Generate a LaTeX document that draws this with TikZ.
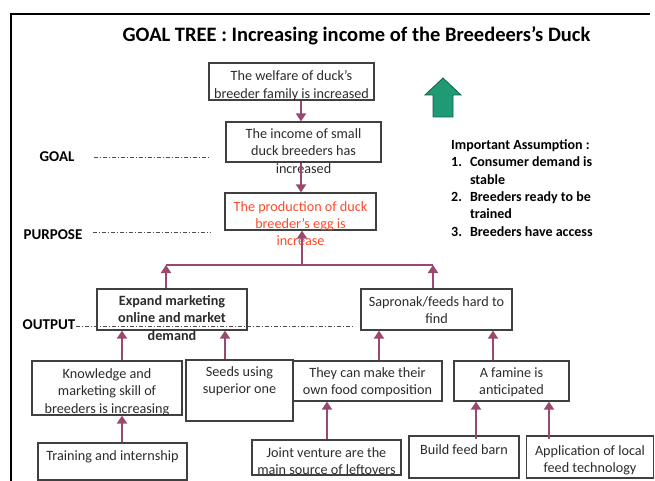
\documentclass[tikz,border=0pt]{standalone}
\usepackage{fontspec}
\setmainfont{Carlito}
\usetikzlibrary{arrows.meta,calc}
\definecolor{conn}{HTML}{9A4870}
\definecolor{boxc}{HTML}{404040}
\definecolor{txtc}{HTML}{2B2B2B}
\definecolor{redt}{HTML}{FF4A2A}
\definecolor{grn}{HTML}{1E9B74}
\definecolor{grnd}{HTML}{155E48}
\tikzset{
  box/.style={draw=boxc, line width=1.2pt, rectangle, inner sep=0pt},
  txt/.style={anchor=north, align=center, inner sep=0pt, text=txtc, font=\fontsize{14.2}{17.3}\selectfont},
  arr/.style={draw=conn, line width=2.8pt, -{Triangle[width=10pt,length=8pt]}},
  hub/.style={draw=conn, line width=2.8pt},
  lvl/.style={font=\fontsize{15}{18}\selectfont\bfseries, text=black, inner sep=0pt},
  dd/.style={draw=black!70, line width=0.7pt, dash pattern=on 4pt off 2pt on 1pt off 2pt},
}
\begin{document}
\begin{tikzpicture}[x=1pt,y=-1pt]
\useasboundingbox (0,0) rectangle (655,481);
% frame
\draw[line width=2pt] (650,14) -- (11,14) -- (11,481);
% title
\node[inner sep=0pt, font=\fontsize{20.5}{24}\selectfont\bfseries, text=black] (title) at (356.5,36) {GOAL TREE : Increasing income of the Breedeers’s Duck};
% boxes
\node[box, minimum width=165pt, minimum height=37pt] (welf) at (291.5,81.5) {};
\node[box, minimum width=155pt, minimum height=40pt] (inc) at (303.5,142) {};
\node[box, minimum width=151pt, minimum height=37pt] (prod) at (300.5,211.5) {};
\node[box, minimum width=150pt, minimum height=41pt] (exp) at (172,309.5) {};
\node[box, minimum width=151pt, minimum height=41pt] (sap) at (436.5,309.5) {};
\node[box, minimum width=150pt, minimum height=54pt] (know) at (107,388) {};
\node[box, minimum width=107pt, minimum height=61pt] (seed) at (239.5,390.5) {};
\node[box, minimum width=149pt, minimum height=40pt] (they) at (367.5,381) {};
\node[box, minimum width=115pt, minimum height=40pt] (fam) at (511.5,381) {};
\node[box, minimum width=149pt, minimum height=37pt] (train) at (112.5,461.5) {};
\node[box, minimum width=149pt, minimum height=35pt] (joint) at (326.5,457.5) {};
\node[box, minimum width=110pt, minimum height=42pt] (build) at (464,457) {};
\node[box, minimum width=127pt, minimum height=42pt] (app) at (590,457) {};
% texts
\node[txt] (twelf) at (291.5,70.5) {The welfare of duck’s\\breeder family is increased};
\node[txt] (tinc) at (303.5,128.5) {The income of small\\duck breeders has\\increased};
\node[txt, text=redt] (tprod) at (300.5,201) {The production of duck\\breeder’s egg is\\increase};
\node[txt, font=\fontsize{14.2}{17.3}\selectfont\bfseries] (texp) at (172,295.5) {Expand marketing\\online and market\\demand};
\node[txt] (tsap) at (436.5,296.5) {Sapronak/feeds hard to\\find};
\node[txt] (tknow) at (107,368.5) {Knowledge and\\marketing skill of\\breeders is increasing};
\node[txt] (tseed) at (239.5,366.5) {Seeds using\\superior one};
\node[txt] (tthey) at (367.5,367.5) {They can make their\\own food composition};
\node[txt] (tfam) at (511.5,367.5) {A famine is\\anticipated};
\node[txt] (ttrain) at (112.5,450.5) {Training and internship};
\node[txt] (tjoint) at (326.5,447.5) {Joint venture are the\\main source of leftovers};
\node[txt] (tbuild) at (464,444.5) {Build feed barn};
\node[txt] (tapp) at (590,445.5) {Application of local\\feed technology};
% level labels
\node[lvl] (goal) at (57,157) {GOAL};
\node[lvl] (purp) at (53,235) {PURPOSE};
\node[lvl] (outp) at (49,325) {OUTPUT};
\coordinate (gend) at (210,157);
\coordinate (pend) at (210,232);
\coordinate (oend) at (355,326);
\draw[dd] ([xshift=19pt]goal.east |- gend) -- (gend);
\draw[dd] ([xshift=10pt]purp.east |- pend) -- (pend);
\draw[dd] ([xshift=1pt]outp.east |- oend) -- (oend);
% connectors
\draw[arr] ([xshift=9.5pt]welf.south) -- ([xshift=-2.5pt]inc.north);
\draw[arr] ([xshift=-2.5pt]inc.south) -- ([xshift=0.5pt]prod.north);
\coordinate (hubL) at (166,265);
\coordinate (hubR) at (433,265);
\coordinate (hubM) at (302,265);
\draw[hub] (hubL) -- (hubR);
\draw[arr] (hubM) -- (hubM |- prod.south);
\draw[arr] (hubL |- exp.north) -- (hubL);
\draw[arr] (hubR |- sap.north) -- (hubR);
\draw[arr] ([xshift=15pt]know.north) -- ([xshift=15pt]know.north |- exp.south);
\draw[arr] ([xshift=-14.5pt]seed.north) -- ([xshift=-14.5pt]seed.north |- exp.south);
\draw[arr] ([xshift=11.5pt]they.north) -- ([xshift=11.5pt]they.north |- sap.south);
\draw[arr] ([xshift=-18.5pt]fam.north) -- ([xshift=-18.5pt]fam.north |- sap.south);
\draw[arr] ([xshift=9.5pt]train.north) -- ([xshift=9.5pt]train.north |- know.south);
\draw[arr] ([xshift=0.5pt]joint.north) -- ([xshift=0.5pt]joint.north |- they.south);
\draw[arr] ([xshift=12pt,yshift=-4pt]build.north) -- ([xshift=12pt]build.north |- fam.south);
\draw[arr] ([xshift=-41pt,yshift=-4pt]app.north) -- ([xshift=-41pt]app.north |- fam.south);
% green arrow
\draw[fill=grn, draw=grnd, line width=0.8pt] (433,117) -- (433,95) -- (425,95) -- (443,78) -- (461,95) -- (453,95) -- (453,117) -- cycle;
% assumptions
\node[anchor=north west, inner sep=0pt, font=\fontsize{14}{17.4}\selectfont\bfseries, text=black] (assum) at (451,137) {%
\begin{tabular}{@{}l@{\hspace{8pt}}l@{}}
\multicolumn{2}{@{}l@{}}{Important Assumption :}\\
1. & Consumer demand is\\
   & stable\\
2. & Breeders ready to be\\
   & trained\\
3. & Breeders have access
\end{tabular}};
\end{tikzpicture}
\end{document}
